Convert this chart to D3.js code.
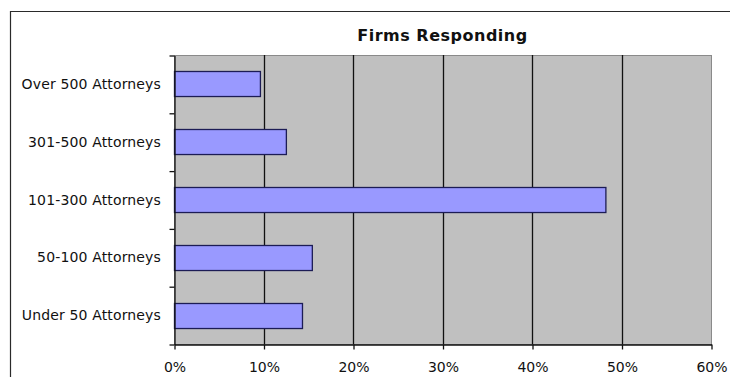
<!DOCTYPE html>
<html>
<head>
<meta charset="utf-8">
<script src="https://cdn.jsdelivr.net/npm/d3@7"></script>
<style>
  html, body { margin: 0; padding: 0; background: #fff; }
  svg { display: block; }
</style>
</head>
<body>
<svg id="chart" width="730" height="377"></svg>
<script>
// Share of firms responding, by firm size
const categories = ["Over 500 Attorneys", "301-500 Attorneys", "101-300 Attorneys", "50-100 Attorneys", "Under 50 Attorneys"];
const shares = [0.096, 0.125, 0.482, 0.154, 0.143];
const xTicks = [0, 0.1, 0.2, 0.3, 0.4, 0.5, 0.6];
const title = "Firms Responding";

const svg = d3.select("#chart");
const W = 730, H = 377;
const plot = { left: 174, right: 711, top: 55, bottom: 344 };

// outer chart frame
svg.append("path")
  .attr("d", `M10.5,${H} L10.5,11.5 L${W},11.5`)
  .attr("fill", "none")
  .attr("stroke", "#2a2a2a")
  .attr("stroke-width", 1.2);

const x = d3.scaleLinear().domain([0, 0.6]).range([plot.left, plot.right]);
const y = d3.scaleBand().domain(categories).range([plot.top, plot.bottom])
  .paddingInner(0.567).paddingOuter(0.2835);
const yEdge = d3.scaleLinear().domain([0, categories.length]).range([plot.top, plot.bottom]);

// plot area
svg.append("rect")
  .attr("x", plot.left + 0.5).attr("y", plot.top + 0.5)
  .attr("width", plot.right - plot.left).attr("height", plot.bottom - plot.top)
  .attr("fill", "#c0c0c0")
  .attr("stroke", "#8a8a8a");

// vertical gridlines
svg.append("g")
  .selectAll("line")
  .data(xTicks.filter(t => t > 0 && t < 0.6))
  .join("line")
  .attr("x1", d => Math.round(x(d)) + 0.5).attr("x2", d => Math.round(x(d)) + 0.5)
  .attr("y1", plot.top).attr("y2", plot.bottom)
  .attr("stroke", "#111").attr("stroke-width", 1.3);

// bars
svg.append("g")
  .selectAll("rect")
  .data(categories.map((c, i) => ({ c, v: shares[i] })))
  .join("rect")
  .attr("x", x(0) + 0.5)
  .attr("y", d => Math.round(y(d.c)) + 0.5)
  .attr("width", d => x(d.v) - x(0))
  .attr("height", y.bandwidth())
  .attr("fill", "#9999ff")
  .attr("stroke", "#1c1c55")
  .attr("stroke-width", 1.3);

const font = "'DejaVu Sans', Verdana, sans-serif";

// category axis: ticks on band edges, labels centred in bands
const yAxis = svg.append("g")
  .attr("transform", `translate(${plot.left + 0.5},0.5)`)
  .call(d3.axisLeft(yEdge).tickValues(d3.range(categories.length + 1)).tickFormat("").tickSize(5).tickSizeOuter(0));
yAxis.selectAll("line, path").attr("stroke", "#111").attr("stroke-width", 1.3);

svg.append("g")
  .selectAll("text")
  .data(categories)
  .join("text")
  .attr("x", plot.left - 13)
  .attr("y", d => y(d) + y.bandwidth() / 2)
  .attr("dy", "0.36em")
  .attr("text-anchor", "end")
  .attr("font-family", font)
  .attr("font-size", 14)
  .attr("letter-spacing", 0.15)
  .attr("fill", "#111")
  .text(d => d);

// value axis
const xAxis = svg.append("g")
  .attr("transform", `translate(0.5,${plot.bottom + 0.5})`)
  .call(d3.axisBottom(x).tickValues(xTicks).tickFormat(d3.format(".0%")).tickSize(5).tickSizeOuter(0).tickPadding(13));
xAxis.selectAll("line, path").attr("stroke", "#111").attr("stroke-width", 1.3);
xAxis.selectAll("text")
  .attr("font-family", font)
  .attr("font-size", 14)
  .attr("fill", "#111");

// title
svg.append("text")
  .attr("x", (plot.left + plot.right) / 2)
  .attr("y", 41)
  .attr("text-anchor", "middle")
  .attr("font-family", font)
  .attr("font-weight", "bold")
  .attr("font-size", 16)
  .attr("letter-spacing", 0.5)
  .attr("fill", "#111")
  .text(title);
</script>
</body>
</html>
